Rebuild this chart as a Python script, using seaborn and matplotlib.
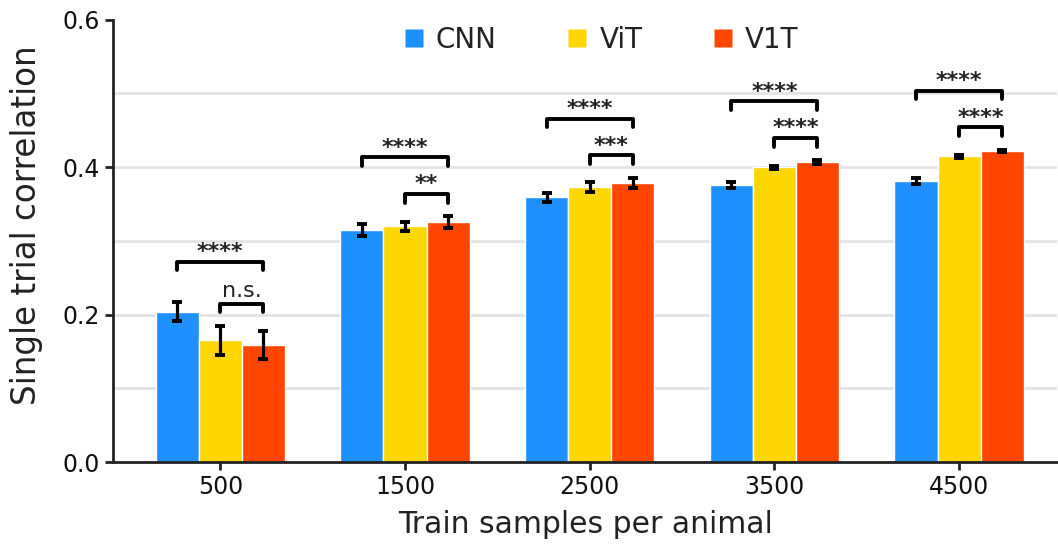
import numpy as np
import pandas as pd
import matplotlib
matplotlib.use("Agg")
import matplotlib.pyplot as plt
from matplotlib.lines import Line2D
from matplotlib.ticker import MultipleLocator
import seaborn as sns

# data
samples = ["500", "1500", "2500", "3500", "4500"]
models = ["CNN", "ViT", "V1T"]
cnn_mean = [0.204, 0.315, 0.359, 0.376, 0.381]
vit_mean = [0.165, 0.320, 0.373, 0.400, 0.415]
v1t_mean = [0.159, 0.326, 0.379, 0.407, 0.422]
cnn_err = [0.013, 0.008, 0.006, 0.004, 0.004]
vit_err = [0.020, 0.006, 0.007, 0.002, 0.002]
v1t_err = [0.019, 0.008, 0.007, 0.003, 0.002]
# significance labels: (CNN vs V1T, ViT vs V1T)
sig_big = ["****", "****", "****", "****", "****"]
sig_small = ["n.s.", "**", "***", "****", "****"]

colors = {"CNN": "#1E90FF", "ViT": "#FFD700", "V1T": "#FF4500"}

means = {"CNN": cnn_mean, "ViT": vit_mean, "V1T": v1t_mean}
errs = {"CNN": cnn_err, "ViT": vit_err, "V1T": v1t_err}
rows = []
for m in models:
    for i, s in enumerate(samples):
        rows.append({"samples": s, "model": m, "corr": means[m][i], "err": errs[m][i]})
df = pd.DataFrame(rows)

sns.set_style("white")
plt.rcParams["font.family"] = ["DejaVu Sans"]

fig = plt.figure(figsize=(10.58, 5.5), dpi=100)
ax = fig.add_axes([0.107, 0.16, 0.892, 0.804])

sns.barplot(data=df, x="samples", y="corr", hue="model", order=samples,
            hue_order=models, palette=colors, saturation=1, width=0.7,
            edgecolor="white", linewidth=1, errorbar=None, legend=False,
            ax=ax, zorder=2)

# error bars at bar centres
centers = {}
for m, cont in zip(models, ax.containers):
    xs = [p.get_x() + p.get_width() / 2 for p in cont.patches]
    centers[m] = xs
    ax.errorbar(xs, means[m], yerr=errs[m], fmt="none", ecolor="black",
                elinewidth=2.3, capsize=3.8, capthick=2.8, zorder=3)

# significance brackets
tick = 0.012
for i in range(len(samples)):
    top_small = max(vit_mean[i] + vit_err[i], v1t_mean[i] + v1t_err[i])
    top_all = max(cnn_mean[i] + cnn_err[i], top_small)
    y_small = top_small + 0.03
    y_big = max(y_small + 0.05, top_all + 0.055)
    for (a, b, y, lab) in [("CNN", "V1T", y_big, sig_big[i]),
                           ("ViT", "V1T", y_small, sig_small[i])]:
        x1, x2 = centers[a][i], centers[b][i]
        ax.plot([x1, x1, x2, x2], [y - tick, y, y, y - tick], color="black",
                lw=2.8, solid_joinstyle="round", solid_capstyle="round", zorder=4)
        if lab == "n.s.":
            ax.text((x1 + x2) / 2, y + 0.003, lab, ha="center", va="bottom",
                    fontsize=16, color="#222222")
        else:
            ax.text((x1 + x2) / 2, y - 0.001, lab, ha="center", va="bottom",
                    fontsize=16, color="#222222", fontweight="bold")

ax.set_ylim(0, 0.6)
ax.set_xlim(-0.58, 4.53)
ax.yaxis.set_major_locator(MultipleLocator(0.2))
for gy in np.arange(0.1, 0.55, 0.1):
    ax.axhline(gy, color="#e3e3e3", lw=2, zorder=0)
sns.despine(ax=ax)
for sp in ["left", "bottom"]:
    ax.spines[sp].set_color("#222222")
    ax.spines[sp].set_linewidth(2)
ax.tick_params(axis="both", which="major", direction="out", length=6, width=2,
               color="#222222", labelsize=17, labelcolor="#111111", left=True,
               bottom=True)
ax.set_xlabel("Train samples per animal", fontsize=21.5, color="#222222", labelpad=8)
ax.set_ylabel("Single trial correlation", fontsize=23.5, color="#222222")
ax.yaxis.set_label_coords(-0.074, 0.535)

handles = [Line2D([], [], marker="s", linestyle="none", markersize=13,
                  markerfacecolor=colors[m], markeredgecolor="none") for m in models]
ax.legend(handles, models, loc="center", bbox_to_anchor=(0.515, 0.955), ncol=3,
          frameon=False, fontsize=20, columnspacing=2.4, handletextpad=0.3,
          handlelength=1.0, labelcolor="#222222")

fig.savefig("out.png", dpi=100)
